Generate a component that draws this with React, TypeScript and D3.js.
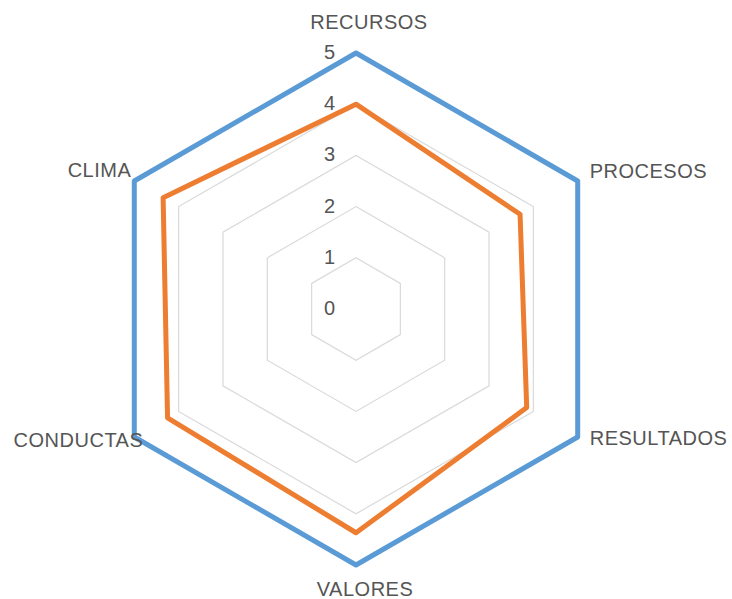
import React from "react";
import * as d3 from "d3";

const categories = ["RECURSOS", "PROCESOS", "RESULTADOS", "VALORES", "CONDUCTAS", "CLIMA"];
const seriesMax = [5, 5, 5, 5, 5, 5];
const seriesActual = [4.0, 3.7, 3.85, 4.37, 4.25, 4.35];
const tickValues = [0, 1, 2, 3, 4, 5];

const W = 732;
const H = 599;
const cx = 356;
const cy = 309;
const R = 256;

// label placement (offset from outer vertex) per category
const labelPlace = [
  { dx: 13, dy: -24, anchor: "middle" },
  { dx: 12, dy: -3, anchor: "start" },
  { dx: 12, dy: 8, anchor: "start" },
  { dx: 9, dy: 31, anchor: "middle" },
  { dx: 9, dy: 10, anchor: "end" },
  { dx: -3, dy: -4, anchor: "end" },
];

export default function App() {
  const r = d3.scaleLinear().domain([0, 5]).range([0, R]);
  const step = (2 * Math.PI) / categories.length;
  const a = (i: number) => i * step;

  const line = d3
    .lineRadial<number>()
    .angle((_, i) => a(i))
    .radius((d) => r(d))
    .curve(d3.curveLinearClosed);

  const pt = (i: number, v: number) => {
    const ang = a(i) - Math.PI / 2;
    return [cx + r(v) * Math.cos(ang), cy + r(v) * Math.sin(ang)];
  };

  const font = "'Liberation Sans', Arial, Helvetica, sans-serif";

  return (
    <svg
      width={W}
      height={H}
      style={{ position: "absolute", left: 0, top: 0, background: "#fff" }}
    >
      <g transform={`translate(${cx},${cy})`}>
        {tickValues
          .filter((t) => t > 0)
          .map((t) => (
            <path
              key={t}
              d={line(categories.map(() => t)) || ""}
              fill="none"
              stroke="#d9d9d9"
              strokeWidth={1.2}
            />
          ))}
        <path
          d={line(seriesActual) || ""}
          fill="none"
          stroke="#ED7D31"
          strokeWidth={5}
          strokeLinejoin="round"
        />
        <path
          d={line(seriesMax) || ""}
          fill="none"
          stroke="#5B9BD5"
          strokeWidth={5}
          strokeLinejoin="round"
        />
      </g>
      {tickValues.map((t) => (
        <text
          key={t}
          x={cx - 21}
          y={cy - r(t) + 6}
          textAnchor="end"
          fontFamily={font}
          fontSize={20}
          fill="#555555"
        >
          {t}
        </text>
      ))}
      {categories.map((c, i) => {
        const [x, y] = pt(i, 5);
        const p = labelPlace[i];
        return (
          <text
            key={c}
            x={x + p.dx}
            y={y + p.dy}
            textAnchor={p.anchor}
            fontFamily={font}
            fontSize={20}
            letterSpacing={0.5}
            fill="#555555"
          >
            {c}
          </text>
        );
      })}
    </svg>
  );
}
